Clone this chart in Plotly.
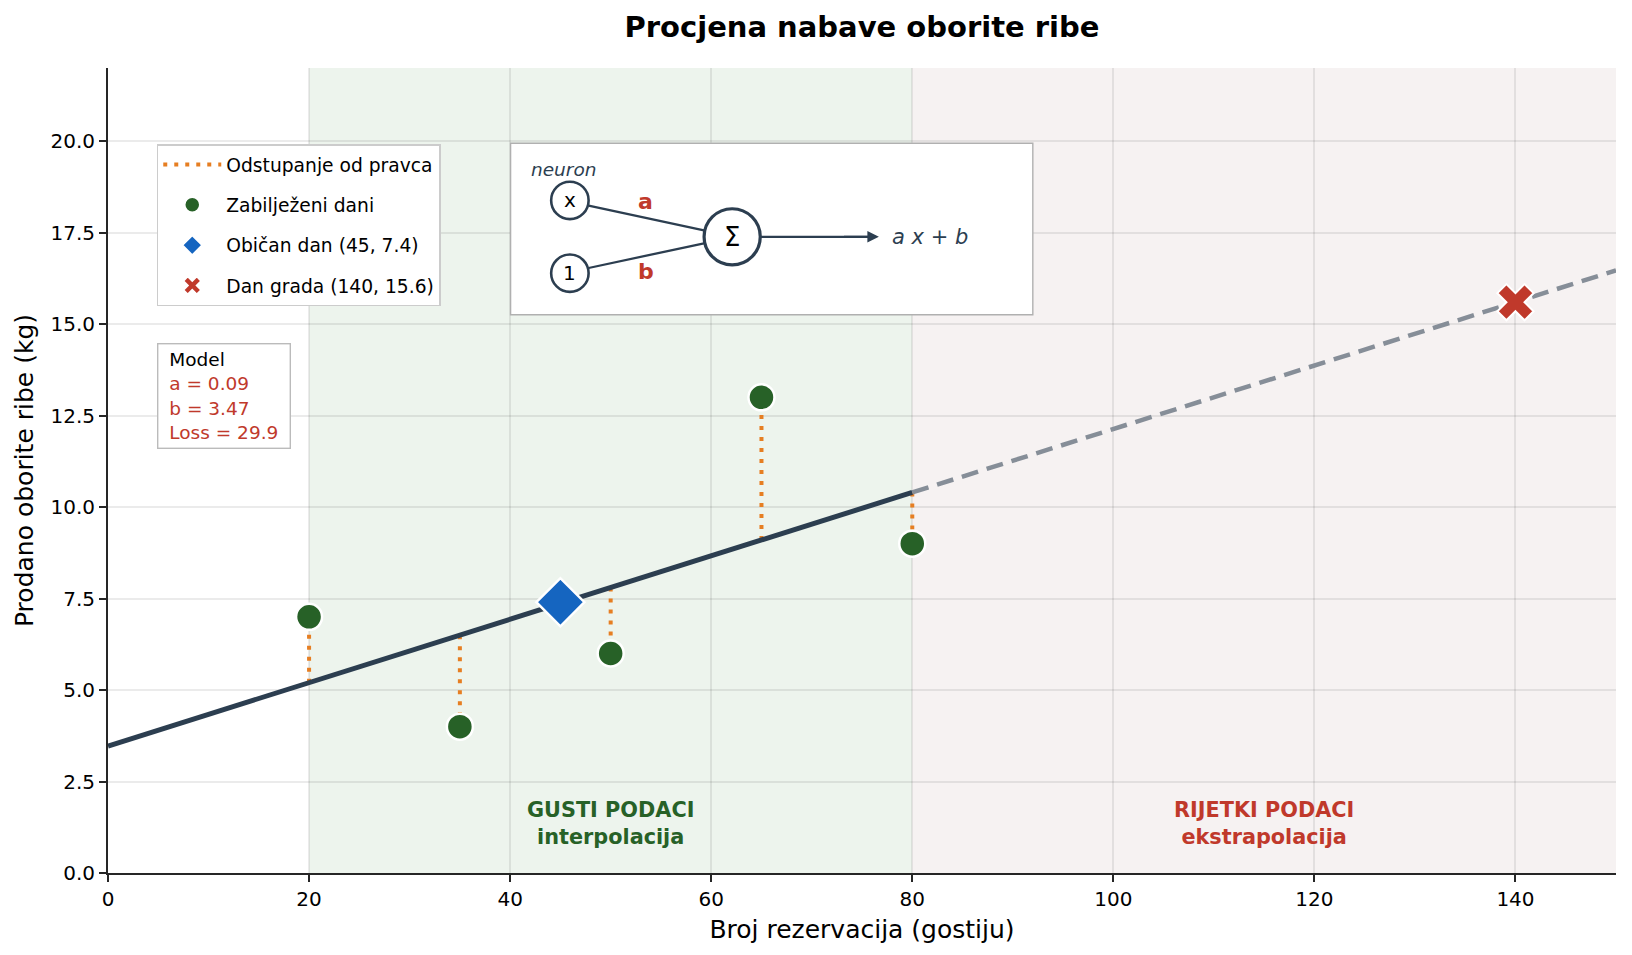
import plotly.graph_objects as go

# Podaci
dani_x = [20, 35, 50, 65, 80]
dani_y = [7, 4, 6, 13, 9]
obican_x = [45]
obican_y = [7.4]
grad_x = [140]
grad_y = [15.6]

# model y = a*x + b (vrijednosti na krajevima pravca)
pravac_x = [0, 80]
pravac_y = [3.47, 10.40]
ekstra_x = [80, 150]
ekstra_y = [10.40, 16.47]
# vrijednost pravca u tockama (za odstupanja)
pravac_u_tockama = [5.20, 6.50, 7.80, 9.10, 10.40]

# pretvaranje piksela (iz predloska) u koordinate podataka, za crtez neurona
X0, X1, Y0, Y1 = 104, 1553.6, 839, 64.6


def px(x, y):
    return (x - X0) / (X1 - X0) * 150, (Y0 - y) / (Y0 - Y1) * 22


FONT = "DejaVu Sans"
TAMNA = "#2c3e50"
CRVENA = "#c0392b"
ZELENA = "#276127"

fig = go.Figure()

# odstupanja od pravca
rx, ry = [], []
for x, y, p in zip(dani_x, dani_y, pravac_u_tockama):
    rx += [x, x, None]
    ry += [p, y, None]
fig.add_trace(go.Scatter(x=rx, y=ry, mode="lines", name="Odstupanje od pravca",
                         line=dict(color="#e67e22", width=4, dash="4px,7px"),
                         legendgroup="a", hoverinfo="skip"))

fig.add_trace(go.Scatter(x=pravac_x, y=pravac_y, mode="lines", showlegend=False,
                         line=dict(color=TAMNA, width=5)))
fig.add_trace(go.Scatter(x=ekstra_x, y=ekstra_y, mode="lines", showlegend=False,
                         line=dict(color="#868e98", width=4.5, dash="17px,9px")))

fig.add_trace(go.Scatter(x=dani_x, y=dani_y, mode="markers", name="Zabilježeni dani",
                         legendgroup="b",
                         marker=dict(color=ZELENA, size=26, line=dict(color="white", width=2.5))))
fig.add_trace(go.Scatter(x=obican_x, y=obican_y, mode="markers", name="Običan dan (45, 7.4)",
                         legendgroup="c",
                         marker=dict(symbol="diamond", color="#1565c0", size=37,
                                     line=dict(color="white", width=2.5))))
fig.add_trace(go.Scatter(x=grad_x, y=grad_y, mode="markers", name="Dan grada (140, 15.6)",
                         legendgroup="d",
                         marker=dict(symbol="x", color=CRVENA, size=32,
                                     line=dict(color="white", width=2))))

shapes = [
    dict(type="rect", xref="x", yref="paper", x0=20, x1=80, y0=0, y1=1,
         fillcolor="#edf4ed", line_width=0, layer="below"),
    dict(type="rect", xref="x", yref="paper", x0=80, x1=150, y0=0, y1=1,
         fillcolor="#f6f2f2", line_width=0, layer="below"),
]

# okvir neurona
bx0, by0 = px(491, 302)
bx1, by1 = px(993, 137)
shapes.append(dict(type="rect", x0=bx0, y0=by0, x1=bx1, y1=by1,
                   fillcolor="white", line=dict(color="#b0b0b0", width=1.4)))


def krug(cx, cy, r, w):
    xa, ya = px(cx - r, cy + r)
    xb, yb = px(cx + r, cy - r)
    return dict(type="circle", x0=xa, y0=ya, x1=xb, y1=yb, fillcolor="white",
                line=dict(color=TAMNA, width=w))


def linija(xa, ya, xb, yb):
    a0, b0 = px(xa, ya)
    a1, b1 = px(xb, yb)
    return dict(type="line", x0=a0, y0=b0, x1=a1, y1=b1,
                line=dict(color=TAMNA, width=2.3))


shapes += [
    linija(566, 197, 678, 221),
    linija(566, 257, 678, 233),
    linija(731, 227, 835, 227),
    krug(548, 192, 18, 2.6),
    krug(548, 262, 18, 2.6),
    krug(704, 227, 27, 3.2),
]

annotations = []


def tekst(x, y, t, size=18, color=TAMNA, **kw):
    dx, dy = px(x, y)
    annotations.append(dict(x=dx, y=dy, text=t, showarrow=False,
                            font=dict(size=size, color=color, family=FONT), **kw))


tekst(509, 162, "<i>neuron</i>", 18.5, xanchor="left")
tekst(548, 192, "x", 20, color="black")
tekst(548, 262, "1", 20, color="black")
tekst(704, 227, "Σ", 26, color="black")
tekst(621, 193, "<b>a</b>", 22, CRVENA)
tekst(621, 260, "<b>b</b>", 22, CRVENA)
tekst(856, 227, "<i>a x</i> + <i>b</i>", 21, xanchor="left")

# strelica
ax0, ay0 = px(810, 227)
ax1, ay1 = px(845, 227)
annotations.append(dict(x=ax1, y=ay1, ax=ax0, ay=ay0, xref="x", yref="y", axref="x", ayref="y",
                        text="", showarrow=True, arrowhead=2, arrowsize=1, arrowwidth=2.3,
                        arrowcolor=TAMNA))

# okvir modela
mx, my = px(151, 329)
annotations.append(dict(x=mx, y=my, xanchor="left", yanchor="top", showarrow=False, align="left",
                        text="&nbsp;Model<br><span style='color:#c0392b'>&nbsp;a = 0.09<br>&nbsp;b = 3.47"
                             "<br>&nbsp;Loss = 29.9&nbsp;</span>",
                        font=dict(size=18.5, color="black", family=FONT),
                        bgcolor="white", bordercolor="#bbbbbb", borderwidth=1.4, borderpad=5))

annotations += [
    dict(x=50, y=1.36, text="<b>GUSTI PODACI<br>interpolacija</b>", showarrow=False,
         font=dict(size=20.8, color=ZELENA, family=FONT)),
    dict(x=115, y=1.36, text="<b>RIJETKI PODACI<br>ekstrapolacija</b>", showarrow=False,
         font=dict(size=20.8, color=CRVENA, family=FONT)),
]

fig.update_layout(
    width=1616, height=939,
    margin=dict(l=100, r=8, t=60, b=74),
    plot_bgcolor="white", paper_bgcolor="white",
    font=dict(family=FONT, size=20, color="black"),
    title=dict(text="<b>Procjena nabave oborite ribe</b>", xref="paper", x=0.5, xanchor="center",
               y=0.98, yanchor="middle", font=dict(size=29)),
    shapes=shapes, annotations=annotations,
    legend=dict(x=0.0324, y=0.905, xanchor="left", yanchor="top", bgcolor="white",
                bordercolor="#cccccc", borderwidth=1.4, font=dict(size=18.7),
                tracegroupgap=13, itemsizing="trace", itemwidth=58),
)
fig.update_xaxes(range=[0, 150], tickvals=[0, 20, 40, 60, 80, 100, 120, 140],
                 title=dict(text="Broj rezervacija (gostiju)", font=dict(size=25), standoff=10),
                 showline=True, linecolor="#262626", linewidth=2, ticks="outside",
                 ticklen=7, tickwidth=1.8, tickcolor="#262626",
                 gridcolor="rgba(0,0,0,0.08)", gridwidth=1.6, zeroline=False,
                 tickfont=dict(size=20))
fig.update_yaxes(range=[0, 22], tickvals=[0, 2.5, 5, 7.5, 10, 12.5, 15, 17.5, 20], tickformat=".1f",
                 title=dict(text="Prodano oborite ribe (kg)", font=dict(size=25), standoff=10),
                 showline=True, linecolor="#262626", linewidth=2, ticks="outside",
                 ticklen=7, tickwidth=1.8, tickcolor="#262626",
                 gridcolor="rgba(0,0,0,0.08)", gridwidth=1.6, zeroline=False,
                 tickfont=dict(size=20))

fig.write_html("out.html")
